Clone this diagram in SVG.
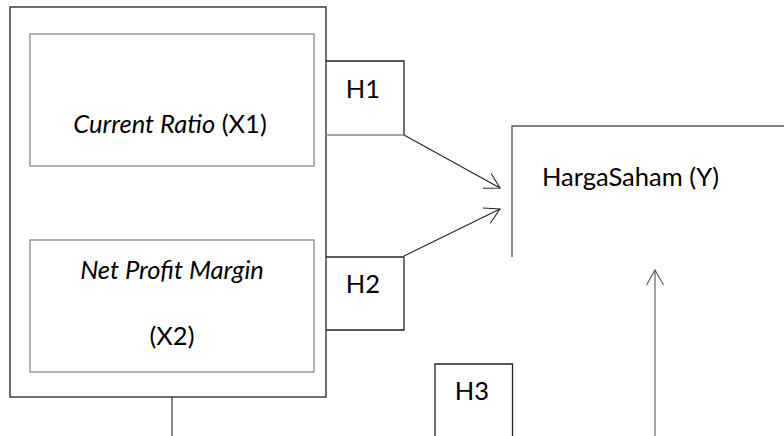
<svg xmlns="http://www.w3.org/2000/svg" width="784" height="436" viewBox="0 0 784 436">
<defs>
<style>
text{font-family:Lato,"Open Sans","Liberation Sans",sans-serif;font-size:25.5px;fill:#000}
.it{font-style:italic}
.dark{fill:none;stroke:#222;stroke-width:1.3}
.gray{fill:none;stroke:#8a8a8a;stroke-width:1.3}
.mid{fill:none;stroke:#555;stroke-width:1.3}
.conn{fill:none;stroke:#222;stroke-width:1.1}
</style>
<marker id="arr" viewBox="0 0 16 18" refX="15" refY="9" markerWidth="16" markerHeight="18" markerUnits="userSpaceOnUse" orient="auto">
<path d="M0,0.5 L15,9 L0,17.5" fill="none" stroke="#222" stroke-width="1.1"/>
</marker>
<marker id="arrg" viewBox="0 0 16 18" refX="15" refY="9" markerWidth="16" markerHeight="18" markerUnits="userSpaceOnUse" orient="auto">
<path d="M0,0.5 L15,9 L0,17.5" fill="none" stroke="#555" stroke-width="1.1"/>
</marker>
</defs>
<rect width="784" height="436" fill="#fff"/>
<g id="outer">
<rect class="dark" x="10" y="7" width="316" height="390"/>
</g>
<g id="x1">
<rect class="gray" x="30" y="34" width="284" height="132"/>
<text x="170" y="133" text-anchor="middle"><tspan class="it">Current Ratio</tspan> (X1)</text>
</g>
<g id="x2">
<rect class="gray" x="30" y="240" width="284" height="132"/>
<text x="172" y="279" text-anchor="middle" class="it">Net Profit Margin</text>
<text x="172" y="345" text-anchor="middle">(X2)</text>
</g>
<g id="h1">
<path class="dark" d="M326,61 H404 V135"/>
<path class="gray" d="M326,135 H404"/>
<text x="363" y="98" text-anchor="middle">H1</text>
</g>
<g id="h2">
<path class="dark" d="M326,257 H404 V330 H326"/>
<text x="363" y="293" text-anchor="middle">H2</text>
</g>
<g id="h3">
<path class="dark" d="M435,436 V364 H512.5 V436"/>
<text x="472" y="400" text-anchor="middle">H3</text>
</g>
<g id="y">
<path class="mid" d="M512,257 V126 H784"/>
<text x="542" y="186">HargaSaham (Y)</text>
</g>
<g id="connectors">
<line class="conn" x1="404" y1="135" x2="500" y2="188" marker-end="url(#arr)"/>
<line class="conn" x1="404" y1="256" x2="500" y2="209" marker-end="url(#arr)"/>
<line class="conn" x1="655" y1="436" x2="655" y2="270" marker-end="url(#arrg)" style="stroke:#555"/>
<line class="conn" x1="172" y1="397" x2="172" y2="436"/>
</g>
</svg>
